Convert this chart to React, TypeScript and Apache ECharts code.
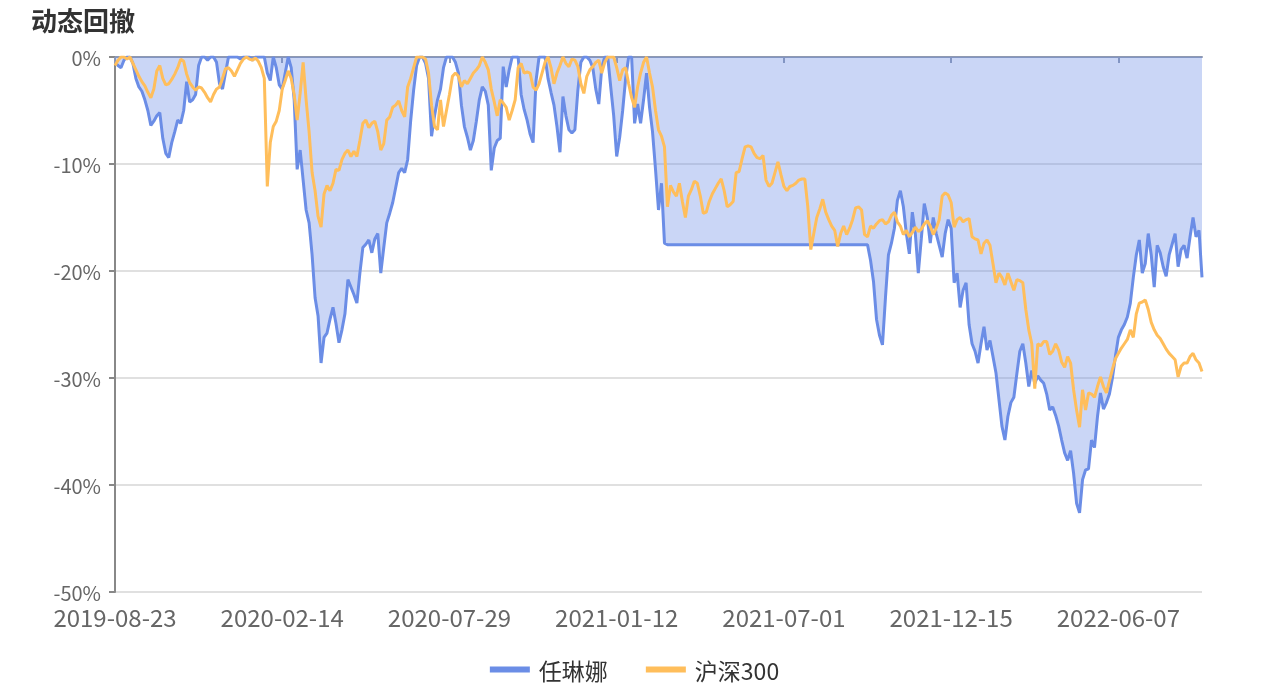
import React, { useEffect, useRef } from "react";
import * as echarts from "echarts";

const titleText = "动态回撤";
const seriesNames = ["任琳娜", "沪深300"];
const tickDates = ["2019-08-23", "2020-02-14", "2020-07-29", "2021-01-12", "2021-07-01", "2021-12-15", "2022-06-07"];
const LABEL_STEP = 56;
const yTicks = [-50, -40, -30, -20, -10, 0];

const fundDrawdown = [
  -0.5,-0.8,-1.0,-0.3,0,0,-0.6,-2.0,-2.8,-3.2,
  -4.0,-5.0,-6.4,-6.0,-5.5,-5.2,-7.6,-9.0,-9.4,-8.0,
  -7.0,-5.9,-6.2,-5.0,-2.3,-4.2,-4.0,-3.5,-0.8,0,
  0,-0.3,0,0,-0.5,-2.5,-3.0,-1.5,0,0,
  0,0,-0.2,0,0,0,-0.3,0,0,0,
  0,-1.5,-2.2,0,-1.0,-2.6,-3.0,-1.5,0,-1.0,
  -4.0,-10.5,-8.7,-11.5,-14.3,-15.5,-18.5,-22.5,-24.2,-28.6,
  -26.2,-25.8,-24.5,-23.4,-24.9,-26.7,-25.5,-24.0,-20.8,-21.5,
  -22.2,-23.0,-20.2,-17.8,-17.5,-17.1,-18.3,-17.0,-16.5,-20.2,
  -17.8,-15.5,-14.6,-13.6,-12.2,-10.8,-10.4,-10.8,-9.6,-6.0,
  -3.1,-0.8,0,0,-0.6,-2.0,-7.4,-5.5,-4.0,-3.0,
  -1.0,0,0,0,-0.5,-1.5,-4.5,-6.5,-7.5,-8.7,
  -7.8,-6.0,-4.0,-2.8,-3.2,-4.5,-10.6,-8.5,-7.8,-7.6,
  -0.9,-2.8,-1.2,0,0,0,-3.5,-4.9,-5.9,-7.2,
  -8.0,-2.2,0,0,0,-2.0,-3.3,-4.5,-6.5,-8.9,
  -3.7,-5.5,-6.8,-7.1,-6.8,-3.1,-0.5,0,0,-0.3,
  -1.0,-3.0,-4.4,-1.0,0,0,-2.8,-5.5,-9.3,-7.5,
  -5.0,-2.0,0,0,-6.2,-4.4,-6.2,-4.0,-1.5,-4.7,
  -7.0,-10.5,-14.3,-11.8,-17.4,
  -17.55,-17.55,-17.55,-17.55,-17.55,-17.55,-17.55,-17.55,-17.55,-17.55,
  -17.55,-17.55,-17.55,-17.55,-17.55,-17.55,-17.55,-17.55,-17.55,-17.55,
  -17.55,-17.55,-17.55,-17.55,-17.55,-17.55,-17.55,-17.55,-17.55,-17.55,
  -17.55,-17.55,-17.55,-17.55,-17.55,-17.55,-17.55,-17.55,-17.55,-17.55,
  -17.55,-17.55,-17.55,-17.55,-17.55,-17.55,-17.55,-17.55,-17.55,-17.55,
  -17.55,-17.55,-17.55,-17.55,-17.55,-17.55,-17.55,-17.55,-17.55,-17.55,
  -17.55,-17.55,-17.55,-17.55,-17.55,-17.55,-17.55,
  -17.55,-19.0,-21.0,-24.5,-26.0,-26.9,-22.5,-18.5,
  -17.4,-16.0,-13.4,-12.5,-14.0,-16.5,-18.4,-14.5,-16.5,-20.2,
  -17.0,-13.7,-15.0,-17.4,-15.0,-16.5,-17.6,-18.7,-16.5,-15.2,
  -16.0,-21.1,-20.2,-23.4,-21.8,-21.1,-25.0,-26.8,-27.5,-28.6,
  -26.8,-25.2,-27.4,-26.5,-28.0,-29.5,-32.0,-34.5,-35.8,-33.6,
  -32.3,-31.8,-29.6,-27.5,-26.8,-28.6,-30.8,-29.3,-30.5,-29.8,
  -30.2,-30.5,-31.5,-33.0,-32.7,-33.5,-34.5,-35.8,-37.0,-37.7,
  -36.8,-38.9,-41.7,-42.6,-39.5,-38.6,-38.5,-35.8,-36.5,-33.6,
  -31.4,-32.9,-32.3,-31.5,-30.0,-28.0,-26.2,-25.5,-25.0,-24.3,
  -23.0,-20.6,-18.5,-17.1,-20.2,-19.3,-16.5,-18.5,-21.5,-17.6,
  -18.3,-19.6,-20.5,-18.5,-17.5,-16.5,-19.6,-18.0,-17.6,-18.8,
  -16.8,-15.0,-16.8,-16.2,-20.6
];

const indexDrawdown = [
  -0.8,-0.3,0,0,-0.2,0,-0.6,-1.2,-1.8,-2.3,
  -2.7,-3.3,-3.8,-3.0,-1.3,-0.8,-2.0,-2.6,-2.5,-2.1,
  -1.6,-1.0,-0.2,-0.4,-1.6,-2.4,-2.8,-3.1,-2.8,-2.9,
  -3.3,-3.8,-4.2,-3.5,-3.0,-2.8,-2.0,-1.1,-1.0,-1.3,
  -1.8,-1.2,-0.6,-0.2,0,-0.2,-0.3,-0.1,-0.4,-1.0,
  -2.0,-12.1,-8.0,-6.5,-6.0,-5.0,-3.0,-2.2,-1.3,-2.0,
  -3.5,-5.9,-3.4,-0.5,-4.0,-7.0,-10.8,-12.5,-14.9,-15.9,
  -12.8,-12.0,-12.5,-11.8,-10.5,-10.6,-9.6,-9.0,-8.7,-9.3,
  -8.8,-9.3,-7.8,-6.2,-5.9,-6.6,-6.2,-6.0,-7.0,-8.7,
  -8.1,-5.9,-5.6,-4.7,-4.5,-4.1,-5.0,-5.6,-2.8,-2.0,
  -1.0,0,0,0,-0.2,-1.5,-4.5,-6.5,-6.8,-4.0,
  -6.5,-5.0,-3.5,-1.8,-1.5,-1.8,-2.8,-2.2,-2.5,-2.0,
  -1.5,-1.2,-0.8,0,-0.5,-1.2,-3.0,-4.2,-5.5,-4.0,
  -4.3,-4.7,-5.9,-5.0,-4.0,-1.0,-0.6,-1.5,-1.4,-1.5,
  -2.8,-3.1,-2.5,-1.5,-0.5,0,-1.0,-2.5,-1.5,-0.8,
  0,-0.6,-0.9,-0.2,-0.3,-0.9,-2.5,-3.4,-1.8,-1.2,
  -0.9,-0.5,-0.3,-1.5,-0.5,0,0,0,-1.0,-2.2,
  -1.2,-1.0,-2.5,-3.8,-4.7,-2.8,-1.5,-0.5,0,-1.5,
  -2.8,-5.0,-6.8,-7.4,-8.4,-14.0,-12.0,-12.6,-13.0,-11.8,
  -13.5,-15.0,-13.0,-12.4,-11.6,-11.8,-13.0,-14.6,-14.5,-13.5,
  -12.8,-12.3,-11.8,-11.4,-12.5,-14.0,-13.8,-13.5,-10.8,-10.7,
  -9.5,-8.4,-8.3,-8.4,-9.0,-9.4,-9.5,-9.2,-11.5,-12.1,
  -11.8,-10.8,-9.8,-11.0,-12.1,-12.5,-12.1,-12.0,-11.8,-11.5,
  -11.4,-11.4,-14.0,-18.0,-16.5,-15.0,-14.2,-13.3,-14.5,-15.2,
  -15.8,-16.2,-17.7,-16.5,-15.8,-16.6,-16.0,-15.2,-14.1,-14.0,
  -14.3,-16.6,-16.8,-15.8,-16.0,-15.6,-15.3,-15.2,-15.6,-15.4,
  -14.8,-14.5,-15.4,-15.8,-16.6,-16.2,-16.8,-16.4,-15.9,-16.3,
  -16.1,-15.6,-15.3,-15.8,-16.6,-16.0,-15.2,-13.0,-12.7,-12.9,
  -13.6,-15.9,-15.2,-15.0,-15.4,-15.2,-15.1,-16.8,-17.0,-17.1,
  -18.4,-17.4,-17.1,-17.6,-19.3,-21.1,-20.2,-20.6,-21.3,-20.2,
  -21.0,-21.8,-20.8,-20.9,-21.1,-23.6,-25.5,-26.8,-31.0,-26.8,
  -27.0,-26.6,-26.6,-27.8,-27.5,-26.8,-27.4,-28.5,-29.0,-28.0,
  -28.6,-31.1,-33.0,-34.6,-31.1,-33.0,-31.4,-31.5,-31.8,-30.8,
  -29.9,-30.8,-31.4,-30.3,-29.2,-28.2,-27.7,-27.2,-26.8,-26.4,
  -25.5,-26.2,-24.0,-23.0,-22.9,-22.7,-23.6,-24.8,-25.5,-26.0,
  -26.3,-26.8,-27.3,-27.7,-28.0,-28.3,-29.9,-28.9,-28.6,-28.6,
  -28.0,-27.7,-28.3,-28.6,-29.4
];

// Category dates: trading-day positions between the labelled dates
function buildDates(count: number): string[] {
  const toMs = (s: string) => Date.UTC(+s.slice(0, 4), +s.slice(5, 7) - 1, +s.slice(8, 10));
  const day = 86400000;
  const out: string[] = [];
  for (let i = 0; i < count; i++) {
    const seg = Math.min(Math.floor(i / LABEL_STEP), tickDates.length - 2);
    const a = toMs(tickDates[seg]);
    const b = toMs(tickDates[seg + 1]);
    const offsetDays = Math.round(((i - seg * LABEL_STEP) / LABEL_STEP) * ((b - a) / day));
    out.push(new Date(a + offsetDays * day).toISOString().slice(0, 10));
  }
  return out;
}

const FONT = "'Noto Sans CJK SC', 'Noto Sans', sans-serif";

export default function App() {
  const ref = useRef<HTMLDivElement>(null);
  useEffect(() => {
    if (!ref.current) return;
    const chart = echarts.init(ref.current, undefined, { renderer: "svg" });
    const n = Math.max(fundDrawdown.length, indexDrawdown.length);
    const dates = buildDates(n);
    chart.setOption({
      animation: false,
      textStyle: { fontFamily: FONT },
      title: {
        text: titleText,
        left: 26,
        top: 1,
        textStyle: { fontSize: 26, fontWeight: "bold", color: "#333", fontFamily: FONT },
      },
      legend: {
        data: seriesNames,
        bottom: 2,
        left: "center",
        icon: "rect",
        itemWidth: 40,
        itemHeight: 6,
        itemGap: 38,
        textStyle: { fontSize: 23, color: "#333", fontFamily: FONT, padding: [0, 0, 0, 4] },
      },
      grid: { left: 115, right: 67, top: 57, bottom: 96, containLabel: false },
      xAxis: [
        {
          type: "category",
          data: dates,
          boundaryGap: false,
          position: "bottom",
          axisLine: { show: false, onZero: false },
          axisTick: { show: false },
          axisLabel: {
            interval: LABEL_STEP - 1,
            fontSize: 24,
            lineHeight: 24,
            color: "#666",
            margin: 12,
            fontFamily: FONT,
          },
          splitLine: { show: false },
        },
        {
          type: "category",
          data: dates,
          boundaryGap: false,
          position: "top",
          axisLine: { show: true, onZero: false, lineStyle: { color: "#8f99b0", width: 2 } },
          axisTick: { show: true, inside: true, interval: LABEL_STEP - 1, length: 6, lineStyle: { color: "#8f99b0", width: 2 } },
          axisLabel: { show: false },
          splitLine: { show: false },
        },
      ],
      yAxis: {
        type: "value",
        min: yTicks[0],
        max: yTicks[yTicks.length - 1],
        interval: 10,
        axisLine: { show: true, lineStyle: { color: "#888", width: 2 } },
        axisTick: { show: true, length: 6, lineStyle: { color: "#888", width: 2 } },
        axisLabel: {
          formatter: "{value}%",
          fontSize: 20,
          lineHeight: 18,
          padding: [0, 0, 6, 0],
          color: "#666",
          margin: 14,
          fontFamily: FONT,
        },
        splitLine: { show: true, lineStyle: { color: "#e0e0e0", width: 2 } },
      },
      series: [
        {
          name: seriesNames[0],
          type: "line",
          xAxisIndex: 0,
          data: fundDrawdown,
          showSymbol: false,
          symbol: "none",
          lineStyle: { color: "#6b8de6", width: 3 },
          itemStyle: { color: "#6b8de6" },
          areaStyle: { color: "rgba(107,141,230,0.36)", opacity: 1 },
        },
        {
          name: seriesNames[1],
          type: "line",
          xAxisIndex: 0,
          data: indexDrawdown,
          showSymbol: false,
          symbol: "none",
          lineStyle: { color: "#ffbe5b", width: 3 },
          itemStyle: { color: "#ffbe5b" },
        },
      ],
    });
    return () => chart.dispose();
  }, []);
  return <div ref={ref} style={{ position: "fixed", left: 0, top: 0, width: 1269, height: 688 }} />;
}
